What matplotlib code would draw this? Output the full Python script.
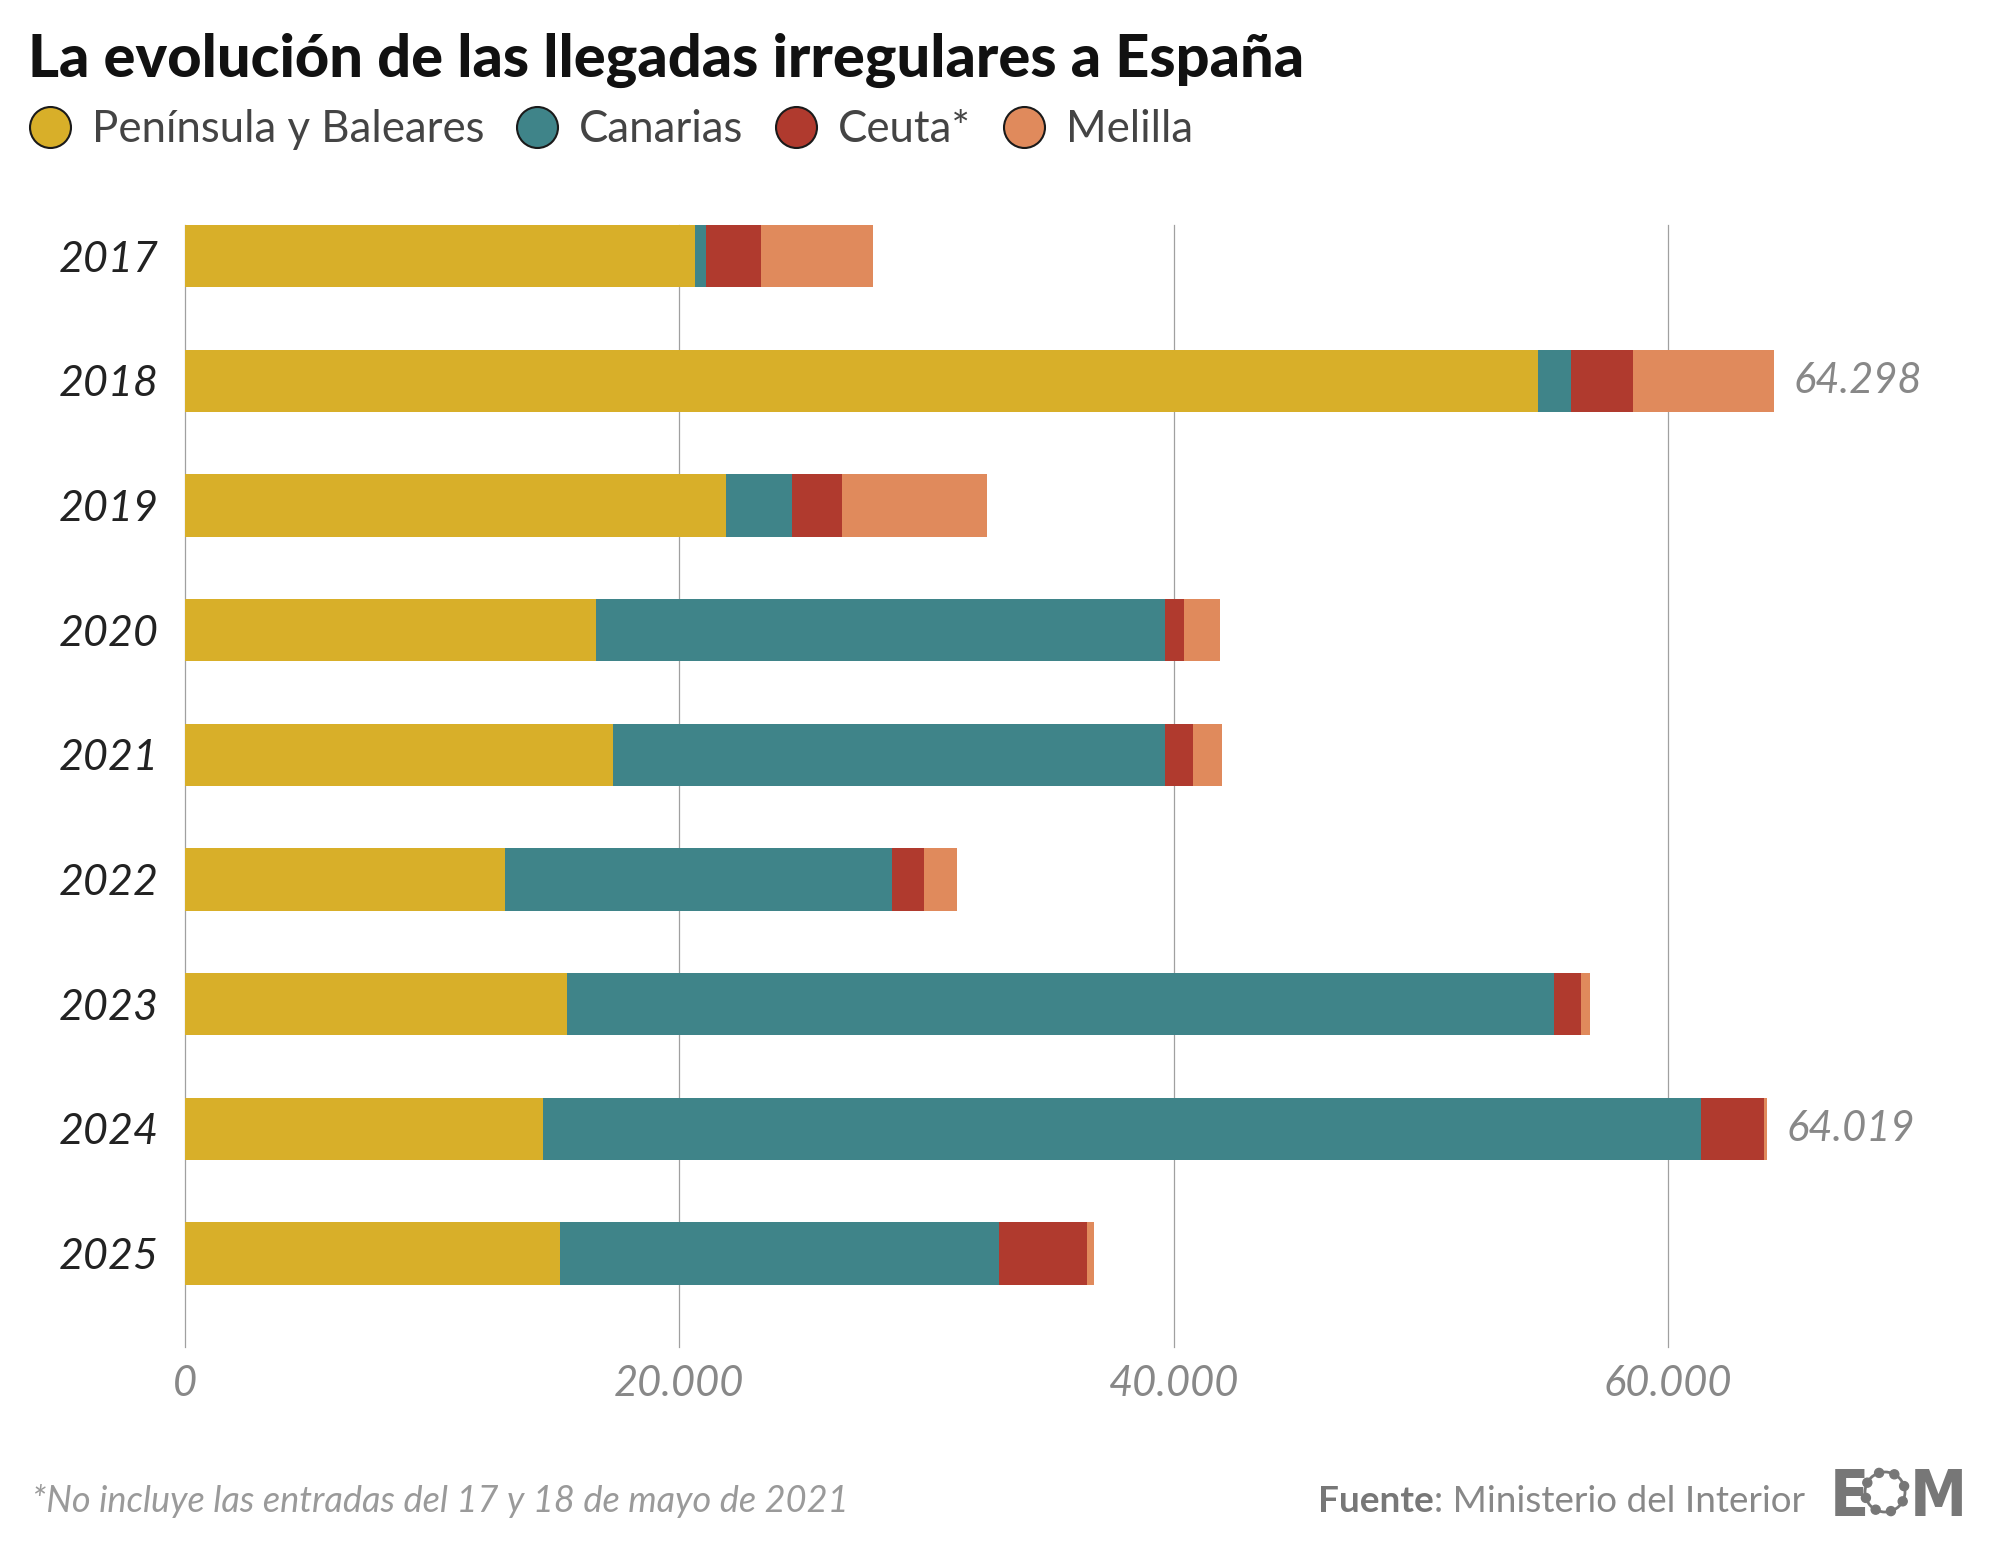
"""
Llegadas irregulares a España por zona, 2017-2025
"""

###############################################################################
# Libraries
import numpy as np
import matplotlib
matplotlib.use('Agg')
import matplotlib.pyplot as plt
from matplotlib.lines import Line2D
from matplotlib.patches import Circle

plt.rcParams['font.family'] = ['Lato', 'DejaVu Sans']

####################################
# Data
years = ['2017', '2018', '2019', '2020', '2021', '2022', '2023', '2024', '2025']
peninsula = [20630, 54760, 21880, 16610, 17334, 12940, 15470, 14500, 15165]
canarias = [440, 1307, 2698, 23023, 22316, 15682, 39910, 46843, 17760]
ceuta = [2220, 2537, 2020, 790, 1137, 1260, 1120, 2565, 3560]
melilla = [4550, 5694, 5851, 1438, 1158, 1337, 352, 111, 310]

series_names = ['Península y Baleares', 'Canarias', 'Ceuta*', 'Melilla']
colors = ['#D8AF29', '#3F8489', '#B03A2E', '#E08A5C']
labelled_years = ['2018', '2024']
xticks = [0, 20000, 40000, 60000]

def fmt(v):
    return '{:,}'.format(int(round(v))).replace(',', '.')

####################################
# Figure
W, H = 2000, 1543
fig = plt.figure(figsize=(W/100, H/100), dpi=100)
ax = fig.add_axes([185/W, 196/H, 1730/W, 1122/H])

y = np.arange(len(years))
left = np.zeros(len(years))
for vals, name, c in zip([peninsula, canarias, ceuta, melilla], series_names, colors):
    ax.barh(y, vals, left=left, height=0.5, color=c, label=name, zorder=2)
    left += np.array(vals)
totals = left

for xt in xticks:
    ax.axvline(xt, color='#a0a0a0', lw=0.9, zorder=0, clip_on=False)

for i, yr in enumerate(years):
    if yr in labelled_years:
        ax.annotate(fmt(totals[i]), xy=(totals[i], i), xytext=(14, 0),
                    textcoords='offset points', va='center', ha='left',
                    fontsize=30, fontstyle='italic', color='#888888')

ax.set_xlim(0, 70000)
ax.set_ylim(len(years) - 0.25, -0.25)
ax.set_xticks(xticks)
ax.set_xticklabels([fmt(v) for v in xticks], fontsize=30, fontstyle='italic', color='#888888')
ax.set_yticks(y)
ax.set_yticklabels(years, fontsize=31, fontstyle='italic', color='#222222')
ax.tick_params(axis='both', length=0)
ax.tick_params(axis='y', pad=19)
ax.tick_params(axis='x', pad=13)
for s in ax.spines.values():
    s.set_visible(False)

####################################
# Title and legend
fig.text(28/W, 1 - 77/H, 'La evolución de las llegadas irregulares a España',
         fontsize=42.8, fontweight='black', color='#111111', va='baseline', ha='left')

handles = [Line2D([], [], marker='o', ls='', markersize=29.5, markerfacecolor=c,
                  markeredgecolor='#1a1a1a', markeredgewidth=1.5) for c in colors]
fig.legend(handles, series_names, loc='center left', bbox_to_anchor=(30/W, 1 - 130/H),
           ncol=4, frameon=False, fontsize=31.5, handlelength=0.93, handletextpad=0.49,
           columnspacing=0.74, borderpad=0, borderaxespad=0, labelcolor='#444444')

####################################
# Footer
fig.text(32/W, 1 - 1512/H, '*No incluye las entradas del 17 y 18 de mayo de 2021',
         fontsize=26, fontstyle='italic', color='#9a9a9a', va='baseline', ha='left')
src = fig.text(1805/W, 1 - 1512/H, ': Ministerio del Interior', fontsize=26.6,
               color='#888888', va='baseline', ha='right')
fig.add_artist(plt.Annotation('Fuente', xy=(0, 0), xycoords=src, ha='right', va='bottom',
                              fontsize=26.6, fontweight='bold', color='#777777'))

# logo
logo_font = dict(family='DejaVu Sans', fontweight='bold', fontstretch='condensed',
                 fontsize=46, color='#777777', va='baseline', ha='left')
fig.text(1830/W, 1 - 1516/H, 'E', **logo_font)
fig.text(1910/W, 1 - 1516/H, 'M', **logo_font)
cx, cy, r = 18.85, (H - 1492)/100, 0.20
fig.add_artist(Circle((cx, cy), r, fill=False, ec='#777777', lw=2,
                      transform=fig.dpi_scale_trans))
for a in np.linspace(0, 2*np.pi, 8, endpoint=False) + 0.3:
    fig.add_artist(Circle((cx + r*np.cos(a), cy + r*np.sin(a)), 0.045, color='#777777',
                          transform=fig.dpi_scale_trans))

fig.savefig('out.png', dpi=100, facecolor='white')
